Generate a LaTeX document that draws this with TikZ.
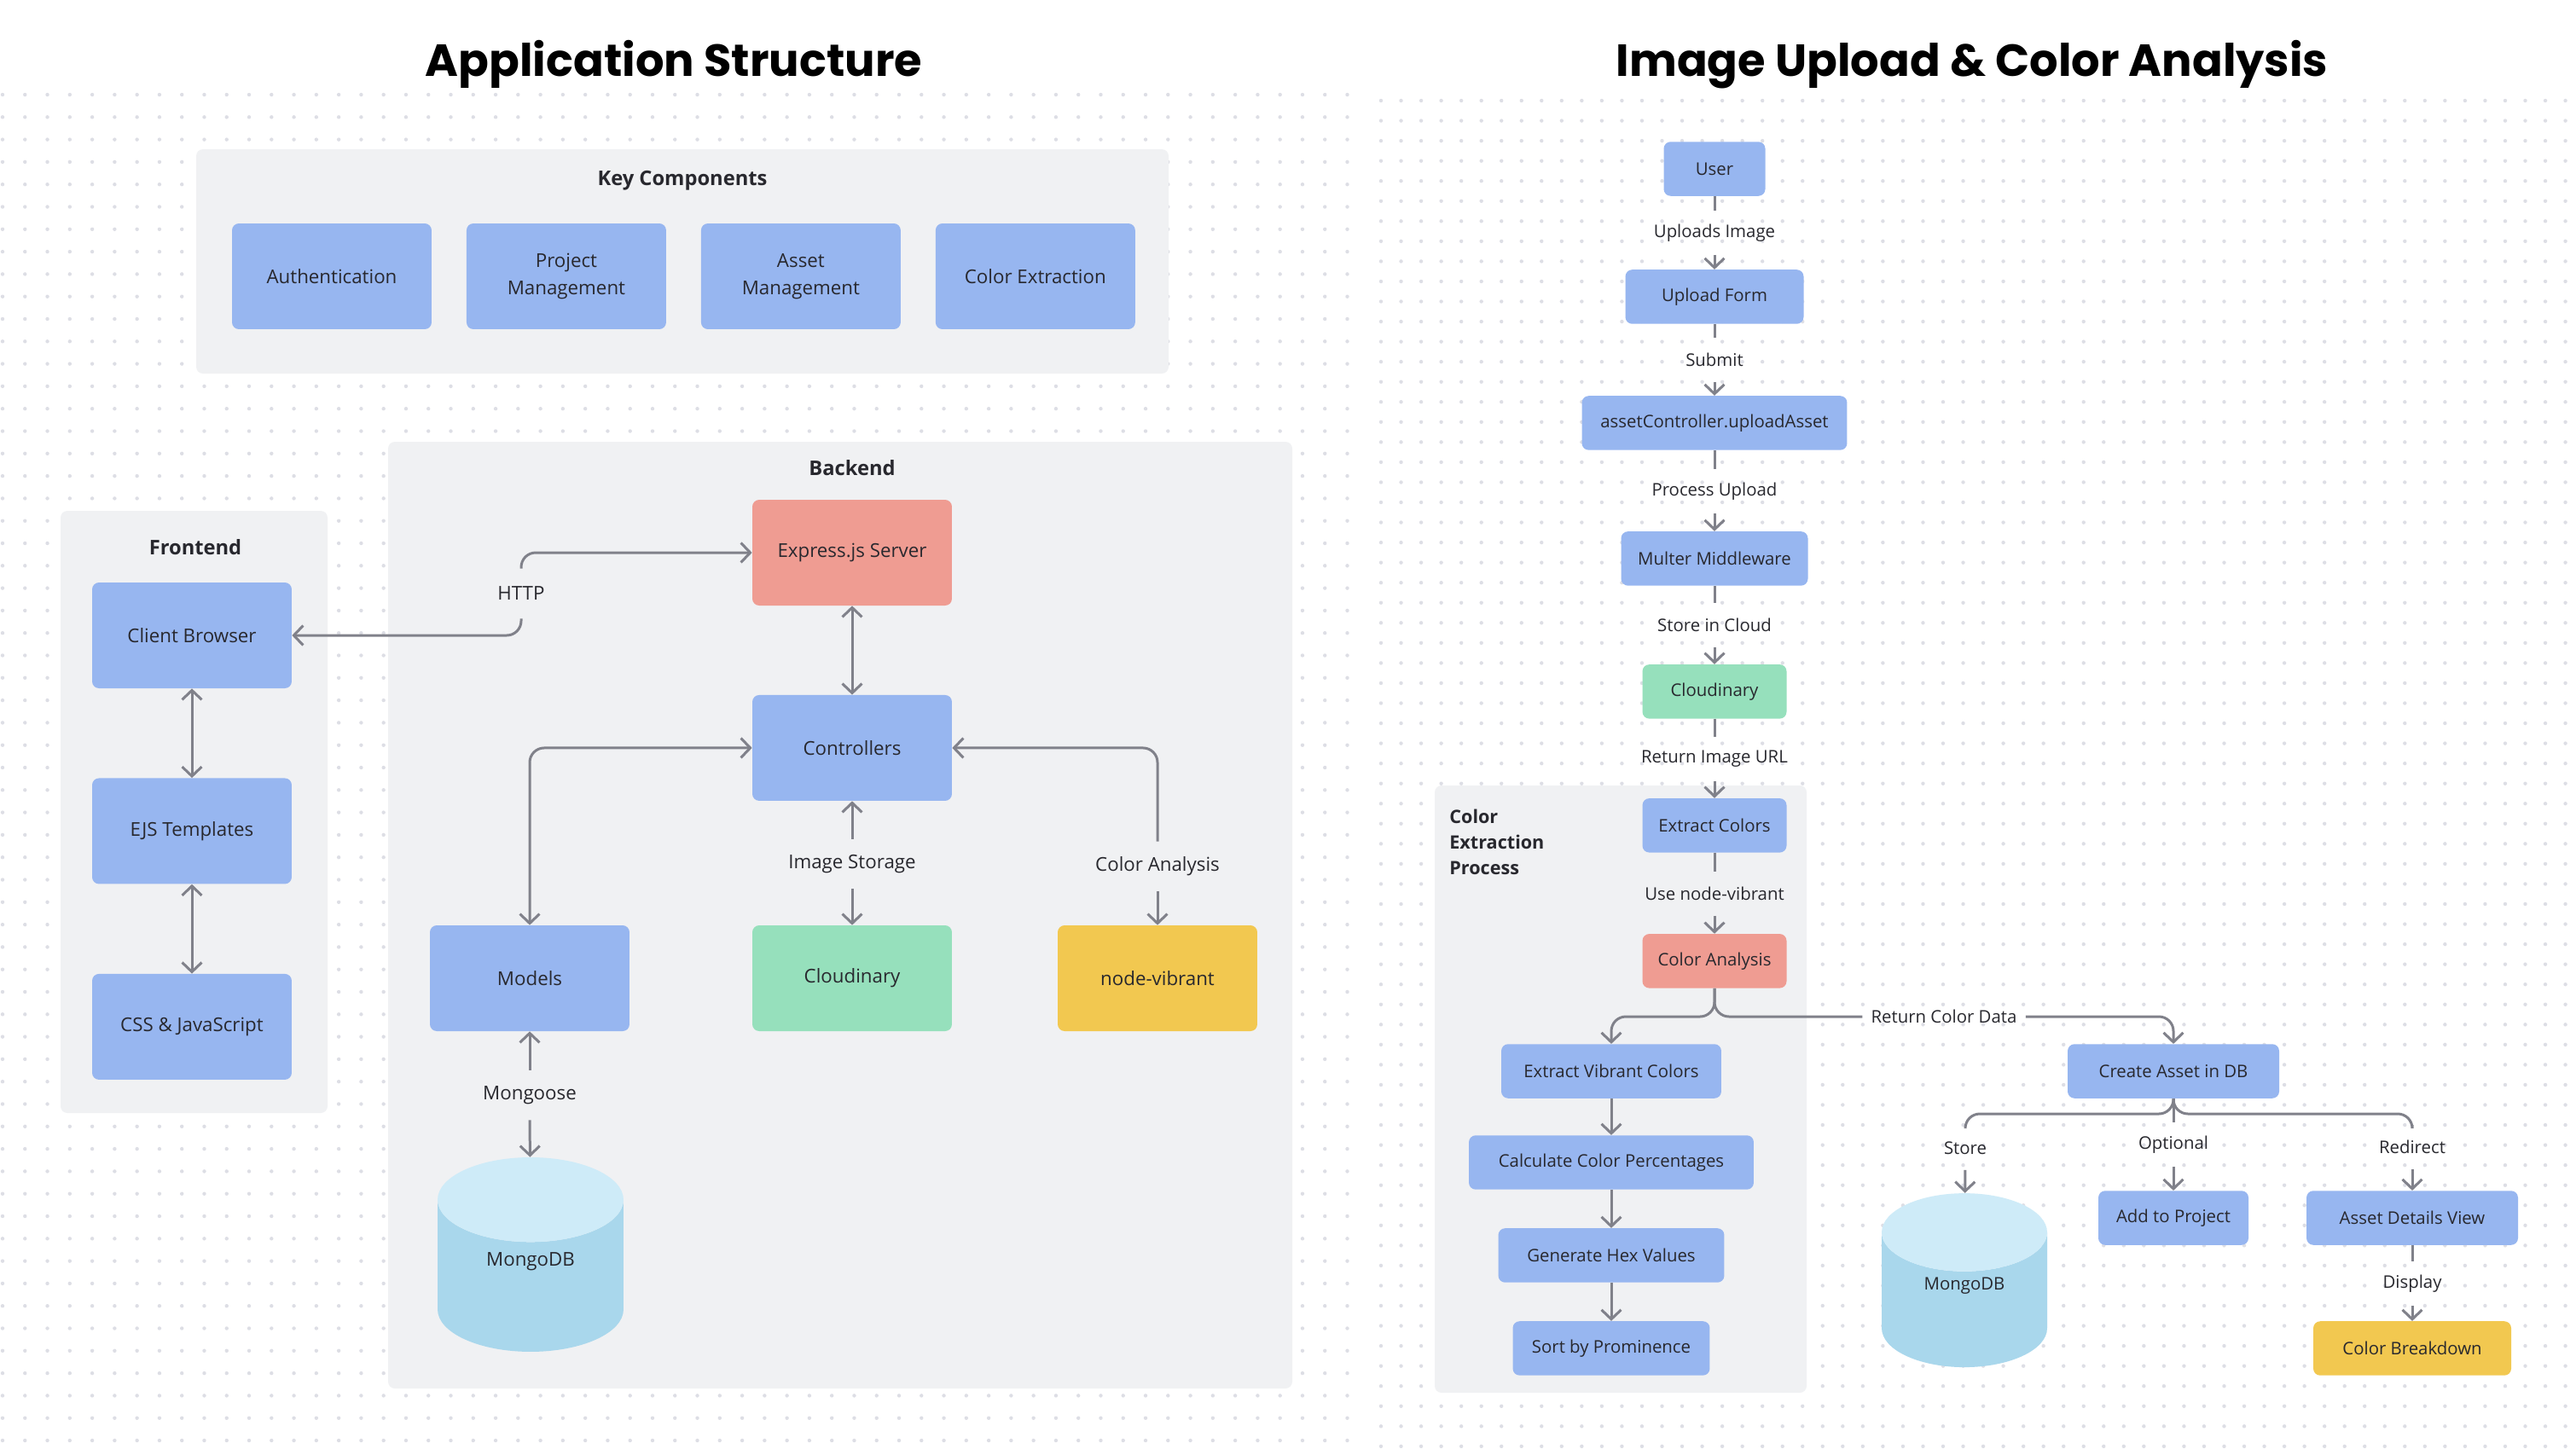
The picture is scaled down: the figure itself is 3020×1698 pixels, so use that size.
\documentclass[tikz,border=0pt]{standalone}
\usepackage{fontspec}
\setmainfont{Open Sans}
\newfontfamily\titlefont{Poppins}
\usetikzlibrary{arrows.meta,positioning,shapes.geometric}
\definecolor{boxblue}{RGB}{151,182,240}
\definecolor{boxred}{RGB}{239,156,146}
\definecolor{boxgreen}{RGB}{150,224,188}
\definecolor{boxyellow}{RGB}{242,200,80}
\definecolor{panel}{RGB}{240,241,243}
\definecolor{dbtop}{RGB}{206,235,248}
\definecolor{dbbody}{RGB}{169,215,236}
\definecolor{wire}{RGB}{128,129,138}
\definecolor{ink}{RGB}{40,40,46}
\definecolor{dotc}{RGB}{221,222,229}

\begin{document}
\begin{tikzpicture}[x=0.02cm,y=-0.02cm,node distance=2cm,on grid,
  >={Straight Barb[length=0.22cm,width=0.46cm]},
  comp/.style={rectangle,rounded corners=0.16cm,fill=boxblue,text=ink,minimum width=4.68cm,minimum height=2.48cm,align=center,font=\fontsize{12.7}{18}\selectfont},
  rbox/.style={rectangle,rounded corners=0.16cm,fill=boxblue,text=ink,minimum height=1.27cm,font=\fontsize{11.6}{14}\selectfont},
  wlbl/.style={inner xsep=0.2cm,inner ysep=0pt,minimum height=1.16cm,text=ink,font=\fontsize{12.7}{15}\selectfont},
  rlbl/.style={inner xsep=0.2cm,inner ysep=0pt,minimum height=1.02cm,text=ink,font=\fontsize{11.6}{14}\selectfont},
  link/.style={draw=wire,line width=0.06cm,rounded corners=0.34cm},
  panelhead/.style={text=ink,font=\bfseries\fontsize{13.5}{17}\selectfont},
  heading/.style={anchor=base,text=black,font=\titlefont\bfseries\fontsize{30}{36}\selectfont},
  dotrow/.style={draw=dotc,line width=0.088cm,line cap=round},
  db/.style={cylinder,shape border rotate=90,aspect=0.86,cylinder uses custom fill,cylinder end fill=dbtop,cylinder body fill=dbbody,text=ink}
]
\fill[white] (0,0) rectangle (3020,1698);
\useasboundingbox (0,0) rectangle (3020,1698);
\foreach \j in {0,...,60}
  \draw[dotrow,dash pattern=on 0pt off 0.5256cm] (3,111+26.3*\j) -- (1581,111+26.3*\j);
\foreach \j in {0,...,67}
  \draw[dotrow,dash pattern=on 0pt off 0.4708cm] (1619,118+23.55*\j) -- (3010,118+23.55*\j);

\node[heading] (t_app) at (790,89) {Application Structure};
\node[heading] (t_img) at (2312,89) {Image Upload \& Color Analysis};

\fill[panel,rounded corners=0.16cm] (230,175) rectangle (1370,438);
\fill[panel,rounded corners=0.16cm] (71,599) rectangle (384,1305);
\fill[panel,rounded corners=0.16cm] (455,518) rectangle (1515,1628);
\fill[panel,rounded corners=0.16cm] (1682,921) rectangle (2118,1633);

\node[panelhead] (h_key) at (800,212) {Key Components};
\node[panelhead] (h_front) at (229,642) {Frontend};
\node[panelhead] (h_back) at (999,549) {Backend};
\node[panelhead,font=\bfseries\fontsize{12.3}{17}\selectfont,align=left,anchor=north west,inner sep=0pt] (h_cep) at (1699,949) {Color\\Extraction\\Process};

\node[comp] (c_auth) at (389,324) {Authentication};
\node[comp,right=5.5cm of c_auth] (c_proj) {Project\\Management};
\node[comp,right=5.5cm of c_proj] (c_asset) {Asset\\Management};
\node[comp,right=5.5cm of c_asset] (c_color) {Color Extraction};

\node[comp] (f_client) at (225,745) {Client Browser};
\node[comp,below=4.59cm of f_client] (f_ejs) {EJS Templates};
\node[comp,below=4.59cm of f_ejs] (f_css) {CSS \& JavaScript};

\node[comp,fill=boxred] (b_server) at (999,648) {Express.js Server};
\node[comp,below=4.58cm of b_server] (b_ctrl) {Controllers};
\node[comp] (b_models) at (621,1147) {Models};
\node[comp,fill=boxgreen] (b_cloud) at (999,1147) {Cloudinary};
\node[comp,fill=boxyellow] (b_vibrant) at (1357,1147) {node-vibrant};
\node[db,minimum width=4.36cm,minimum height=4.56cm,font=\fontsize{12.7}{15}\selectfont] (b_mongo) at (622,1504) {\raisebox{0.4cm}[0pt][0pt]{MongoDB}};

\node[wlbl] (l_http) at (611,696) {HTTP};
\node[wlbl] (l_store) at (999,1013) {Image Storage};
\node[wlbl] (l_analysis) at (1357,1016) {Color Analysis};
\node[wlbl] (l_mongoose) at (621,1284) {Mongoose};

\path[link,<->]
  (f_client) edge (f_ejs)
  (f_ejs) edge (f_css)
  (b_server) edge (b_ctrl);
\path[link,->]
  (l_store) edge (b_ctrl)
  (l_store) edge (b_cloud)
  (l_analysis) edge (b_vibrant)
  (l_mongoose) edge (b_models)
  (l_mongoose) edge (b_mongo);
\draw[link,->] (l_http) |- (f_client);
\draw[link,->] (l_http) |- (b_server);
\draw[link,<->] (b_ctrl) -| (b_models);
\draw[link,->] (l_analysis) |- (b_ctrl);

\node[rbox,minimum width=2.38cm] (u_user) at (2010,198) {User};
\node[rlbl,below=1.5cm of u_user] (l_upload) {Uploads Image};
\node[rbox,minimum width=4.18cm,below=1.5cm of l_upload] (u_form) {Upload Form};
\node[rlbl,below=1.48cm of u_form] (l_submit) {Submit};
\node[rbox,minimum width=6.22cm,below=1.48cm of l_submit] (u_ctrl) {assetController.uploadAsset};
\node[rlbl,below=1.6cm of u_ctrl] (l_process) {Process Upload};
\node[rbox,minimum width=4.38cm,below=1.58cm of l_process] (u_multer) {Multer Middleware};
\node[rlbl,below=1.56cm of u_multer] (l_cloud) {Store in Cloud};
\node[rbox,fill=boxgreen,minimum width=3.38cm,below=1.56cm of l_cloud] (u_cloud) {Cloudinary};
\node[rlbl,below=1.58cm of u_cloud] (l_url) {Return Image URL};
\node[rbox,minimum width=3.38cm,below=1.56cm of l_url] (u_extract) {Extract Colors};
\node[rlbl,below=1.6cm of u_extract] (l_vibrant) {Use node-vibrant};
\node[rbox,fill=boxred,minimum width=3.38cm,below=1.58cm of l_vibrant] (u_analysis) {Color Analysis};

\node[rbox,minimum width=5.16cm] (u_vib) at (1889,1256) {Extract Vibrant Colors};
\node[rbox,minimum width=6.68cm,below=2.14cm of u_vib] (u_pct) {Calculate Color Percentages};
\node[rbox,minimum width=5.3cm,below=2.18cm of u_pct] (u_hex) {Generate Hex Values};
\node[rbox,minimum width=4.62cm,below=2.18cm of u_hex] (u_sort) {Sort by Prominence};

\node[rbox,minimum width=4.96cm] (u_asset) at (2548,1256) {Create Asset in DB};
\node[rlbl] (l_data) at (2279,1192) {Return Color Data};
\coordinate (j_split) at (2010,1192);
\coordinate (j_asset) at (2548,1306);
\node[rlbl] (l_keep) at (2304,1346) {Store};
\node[rlbl] (l_opt) at (2548,1342) {Optional};
\node[rlbl] (l_redir) at (2828,1345) {Redirect};
\node[db,minimum width=3.88cm,minimum height=4.08cm,font=\fontsize{11.6}{14}\selectfont] (u_mongo) at (2303,1532) {\raisebox{0.4cm}[0pt][0pt]{MongoDB}};
\node[rbox,minimum width=3.52cm] (u_project) at (2548,1428) {Add to Project};
\node[rbox,minimum width=4.96cm] (u_details) at (2828,1428) {Asset Details View};
\node[rlbl,below=1.54cm of u_details] (l_display) {Display};
\node[rbox,fill=boxyellow,minimum width=4.64cm,below=3.06cm of u_details] (u_breakdown) {Color Breakdown};

\path[link]
  (u_user) edge (l_upload)
  (u_form) edge (l_submit)
  (u_ctrl) edge (l_process)
  (u_multer) edge (l_cloud)
  (u_cloud) edge (l_url)
  (u_extract) edge (l_vibrant)
  (u_asset) edge (l_opt)
  (u_details) edge (l_display);
\path[link,->]
  (l_upload) edge (u_form)
  (l_submit) edge (u_ctrl)
  (l_process) edge (u_multer)
  (l_cloud) edge (u_cloud)
  (l_url) edge (u_extract)
  (l_vibrant) edge (u_analysis)
  (u_vib) edge (u_pct)
  (u_pct) edge (u_hex)
  (u_hex) edge (u_sort)
  (l_keep) edge (u_mongo)
  (l_opt) edge (u_project)
  (l_redir) edge (u_details)
  (l_display) edge (u_breakdown);
\draw[link,->] (u_analysis) -- (j_split) -| (u_vib);
\draw[link] (u_analysis) -- (j_split) -- (l_data);
\draw[link,->] (l_data) -| (u_asset);
\draw[link] (u_asset) -- (j_asset) -| (l_keep);
\draw[link] (u_asset) -- (j_asset) -| (l_redir);
\end{tikzpicture}
\end{document}
